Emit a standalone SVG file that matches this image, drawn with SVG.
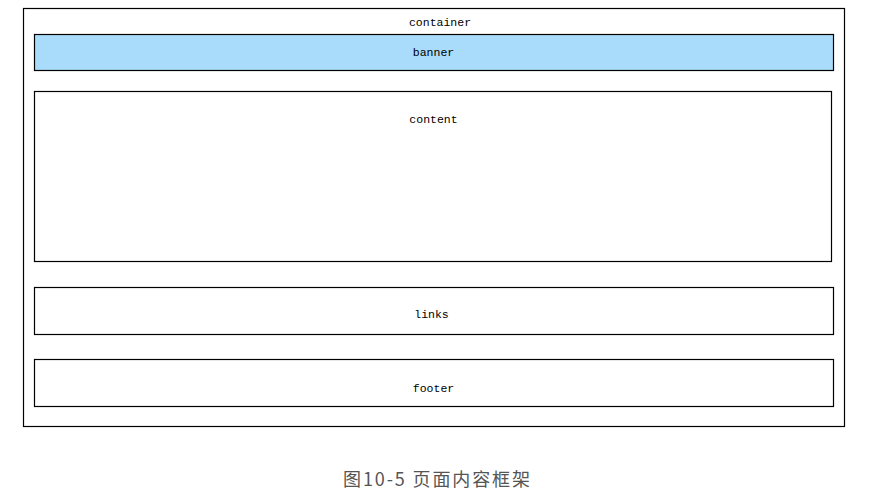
<svg xmlns="http://www.w3.org/2000/svg" width="873" height="494" viewBox="0 0 873 494">
<style>
.box{fill:#ffffff;stroke:#000;stroke-width:1.2}
.banner{fill:#a9dcfa;stroke:#000;stroke-width:1.2}
.lbl{font-family:"Liberation Mono","DejaVu Sans Mono",monospace;font-size:11.5px;fill:#000;text-anchor:middle}
.cap{font-family:"Noto Sans CJK SC","Noto Sans",sans-serif;font-size:18px;fill:#555;text-anchor:middle}
</style>
<rect width="873" height="494" fill="#fff"/>
<g id="container">
<rect class="box" x="23.5" y="8.5" width="821" height="418"/>
<text class="lbl" x="440" y="26">container</text>
</g>
<g id="banner">
<rect class="banner" x="34.5" y="34.5" width="799" height="36"/>
<text class="lbl" x="433.5" y="56">banner</text>
</g>
<g id="content">
<rect class="box" x="34.5" y="91.5" width="797" height="170"/>
<text class="lbl" x="433.5" y="123">content</text>
</g>
<g id="links">
<rect class="box" x="34.5" y="287.5" width="799" height="47"/>
<text class="lbl" x="431.5" y="318">links</text>
</g>
<g id="footer">
<rect class="box" x="34.5" y="359.5" width="799" height="47"/>
<text class="lbl" x="433.5" y="392">footer</text>
</g>
<g id="connectors"></g>
<text class="cap" x="436.5" y="486" textLength="187">图10-5 页面内容框架</text>
</svg>
